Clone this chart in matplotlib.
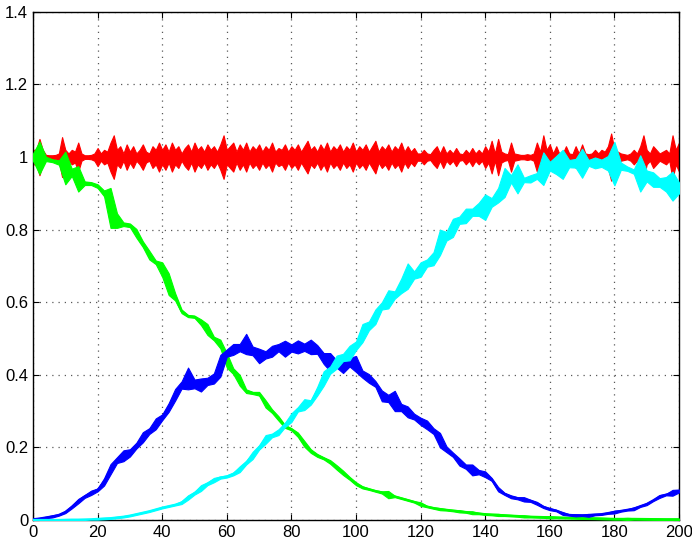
import numpy as np
import matplotlib
matplotlib.use("Agg")
import matplotlib.pyplot as plt

# x grid for the three trend curves (every 2 units) and for red (every unit)
x2 = list(range(0, 201, 2))
x1 = list(range(0, 201, 1))

green_mid = [1.0, 0.998, 0.995, 0.99, 0.985, 0.97, 0.958, 0.94, 0.928, 0.927,
             0.92, 0.9, 0.86, 0.825, 0.815, 0.812, 0.79, 0.76, 0.73, 0.71,
             0.69, 0.65, 0.615, 0.575, 0.562, 0.56, 0.545, 0.525, 0.5, 0.485,
             0.44, 0.41, 0.385, 0.355, 0.35, 0.348, 0.32, 0.3, 0.28, 0.258,
             0.25, 0.235, 0.21, 0.19, 0.178, 0.17, 0.16, 0.145, 0.13, 0.115,
             0.1, 0.09, 0.085, 0.08, 0.076, 0.07, 0.065, 0.06, 0.055, 0.05,
             0.044, 0.037, 0.033, 0.03, 0.028, 0.026, 0.024, 0.022, 0.02, 0.018,
             0.016, 0.015, 0.014, 0.013, 0.012, 0.011, 0.01, 0.009, 0.0085, 0.008,
             0.0075, 0.007, 0.0065, 0.006, 0.0055, 0.005, 0.0048, 0.0045, 0.004, 0.0035,
             0.003, 0.003, 0.003, 0.003, 0.0028, 0.0026, 0.0024, 0.0022, 0.002, 0.002,
             0.002]
green_spread = [0.01, 0.045, 0.006, 0.004, 0.006, 0.045, 0.01, 0.035, 0.005, 0.004,
                0.005, 0.008, 0.055, 0.02, 0.005, 0.005, 0.012, 0.008, 0.012, 0.005,
                0.02, 0.03, 0.01, 0.005, 0.003, 0.003, 0.008, 0.015, 0.005, 0.012,
                0.02, 0.008, 0.015, 0.005, 0.003, 0.005, 0.01, 0.005, 0.006, 0.004,
                0.003, 0.006, 0.008, 0.005, 0.004, 0.003, 0.005, 0.006, 0.006, 0.004,
                0.004, 0.003, 0.002, 0.002, 0.003, 0.01, 0.002, 0.002, 0.002, 0.002,
                0.005, 0.002, 0.002, 0.003, 0.002, 0.002, 0.003, 0.002, 0.004, 0.002,
                0.002, 0.002, 0.003, 0.002, 0.002, 0.002, 0.003, 0.002, 0.002, 0.002,
                0.003, 0.002, 0.002, 0.002, 0.002, 0.002, 0.002, 0.002, 0.002, 0.002,
                0.002, 0.002, 0.003, 0.002, 0.002, 0.002, 0.002, 0.002, 0.002, 0.002,
                0.002]

blue_mid = [0.002, 0.004, 0.007, 0.01, 0.014, 0.022, 0.036, 0.052, 0.065, 0.075,
            0.083, 0.105, 0.14, 0.165, 0.177, 0.185, 0.205, 0.228, 0.245, 0.265,
            0.283, 0.31, 0.345, 0.372, 0.39, 0.375, 0.372, 0.382, 0.39, 0.425,
            0.46, 0.47, 0.475, 0.485, 0.466, 0.452, 0.455, 0.465, 0.475, 0.472,
            0.474, 0.477, 0.476, 0.477, 0.47, 0.445, 0.435, 0.43, 0.425, 0.435,
            0.43, 0.402, 0.39, 0.375, 0.342, 0.335, 0.328, 0.31, 0.298, 0.285,
            0.272, 0.262, 0.245, 0.22, 0.195, 0.18, 0.16, 0.147, 0.138, 0.132,
            0.126, 0.112, 0.085, 0.072, 0.064, 0.06, 0.057, 0.053, 0.046, 0.036,
            0.03, 0.026, 0.018, 0.014, 0.013, 0.013, 0.013, 0.015, 0.016, 0.019,
            0.022, 0.025, 0.028, 0.031, 0.038, 0.044, 0.054, 0.065, 0.07, 0.075,
            0.08]
blue_spread = [0.002, 0.002, 0.002, 0.003, 0.002, 0.003, 0.004, 0.006, 0.004, 0.006,
               0.004, 0.01, 0.014, 0.008, 0.015, 0.01, 0.008, 0.014, 0.008, 0.015,
               0.008, 0.012, 0.016, 0.01, 0.03, 0.012, 0.018, 0.01, 0.014, 0.03,
               0.01, 0.015, 0.01, 0.028, 0.012, 0.02, 0.01, 0.015, 0.01, 0.022,
               0.01, 0.018, 0.01, 0.02, 0.012, 0.015, 0.025, 0.01, 0.02, 0.012,
               0.022, 0.01, 0.012, 0.008, 0.015, 0.01, 0.028, 0.01, 0.015, 0.008,
               0.01, 0.012, 0.008, 0.02, 0.008, 0.006, 0.01, 0.006, 0.015, 0.006,
               0.008, 0.004, 0.006, 0.003, 0.004, 0.003, 0.006, 0.003, 0.004, 0.003,
               0.003, 0.002, 0.004, 0.002, 0.003, 0.002, 0.004, 0.002, 0.002, 0.002,
               0.004, 0.002, 0.002, 0.004, 0.002, 0.003, 0.002, 0.004, 0.002, 0.008,
               0.004]

cyan_mid = [0.0, 0.0, 0.0, 0.0, 0.0, 0.0005, 0.001, 0.001, 0.0015, 0.002,
            0.003, 0.004, 0.005, 0.007, 0.009, 0.012, 0.016, 0.02, 0.024, 0.029,
            0.034, 0.038, 0.042, 0.048, 0.062, 0.074, 0.088, 0.1, 0.11, 0.117,
            0.12, 0.127, 0.14, 0.158, 0.178, 0.2, 0.222, 0.233, 0.242, 0.262,
            0.282, 0.305, 0.318, 0.324, 0.355, 0.39, 0.413, 0.435, 0.448, 0.46,
            0.48, 0.515, 0.535, 0.56, 0.59, 0.608, 0.62, 0.645, 0.672, 0.675,
            0.69, 0.708, 0.72, 0.765, 0.782, 0.805, 0.826, 0.838, 0.848, 0.856,
            0.862, 0.875, 0.895, 0.93, 0.94, 0.94, 0.937, 0.94, 0.948, 0.968,
            0.975, 0.978, 0.98, 0.982, 0.983, 0.983, 0.984, 0.984, 0.983, 0.983,
            0.982, 0.975, 0.968, 0.96, 0.955, 0.948, 0.938, 0.93, 0.925, 0.92,
            0.915]
cyan_spread = [0.001, 0.001, 0.001, 0.001, 0.001, 0.001, 0.001, 0.001, 0.001, 0.001,
               0.002, 0.002, 0.002, 0.002, 0.002, 0.002, 0.002, 0.002, 0.002, 0.002,
               0.002, 0.002, 0.002, 0.004, 0.006, 0.004, 0.008, 0.004, 0.006, 0.003,
               0.003, 0.004, 0.008, 0.005, 0.01, 0.006, 0.012, 0.005, 0.008, 0.006,
               0.012, 0.006, 0.015, 0.006, 0.012, 0.02, 0.01, 0.018, 0.01, 0.02,
               0.012, 0.025, 0.012, 0.02, 0.01, 0.025, 0.01, 0.02, 0.035, 0.01,
               0.02, 0.01, 0.018, 0.035, 0.012, 0.025, 0.01, 0.02, 0.01, 0.018,
               0.035, 0.012, 0.02, 0.04, 0.01, 0.04, 0.006, 0.01, 0.008, 0.045,
               0.012, 0.025, 0.04, 0.01, 0.012, 0.04, 0.008, 0.015, 0.01, 0.02,
               0.06, 0.01, 0.006, 0.006, 0.05, 0.015, 0.02, 0.012, 0.02, 0.04,
               0.015]

red_level = 1.0
red_spread = [0.02, 0.02, 0.05, 0.02, 0.006, 0.005, 0.005, 0.006, 0.01, 0.055,
              0.02, 0.01, 0.02, 0.015, 0.04, 0.01, 0.005, 0.005, 0.006, 0.01,
              0.025, 0.01, 0.02, 0.015, 0.04, 0.06, 0.02, 0.03, 0.01, 0.035,
              0.015, 0.03, 0.01, 0.02, 0.035, 0.015, 0.01, 0.03, 0.02, 0.04,
              0.02, 0.035, 0.015, 0.04, 0.02, 0.03, 0.01, 0.025, 0.035, 0.015,
              0.04, 0.02, 0.03, 0.015, 0.035, 0.02, 0.03, 0.015, 0.035, 0.06,
              0.02, 0.03, 0.04, 0.015, 0.035, 0.02, 0.04, 0.015, 0.03, 0.02,
              0.035, 0.015, 0.03, 0.02, 0.04, 0.015, 0.025, 0.02, 0.035, 0.015,
              0.03, 0.02, 0.035, 0.015, 0.03, 0.045, 0.02, 0.03, 0.015, 0.035,
              0.02, 0.04, 0.015, 0.03, 0.02, 0.035, 0.015, 0.03, 0.02, 0.04,
              0.015, 0.03, 0.02, 0.035, 0.015, 0.03, 0.045, 0.015, 0.03, 0.02,
              0.035, 0.015, 0.03, 0.02, 0.04, 0.015, 0.03, 0.015, 0.025, 0.01,
              0.01, 0.02, 0.01, 0.008, 0.02, 0.03, 0.01, 0.03, 0.01, 0.02,
              0.01, 0.025, 0.01, 0.008, 0.02, 0.01, 0.025, 0.01, 0.02, 0.01,
              0.03, 0.015, 0.045, 0.01, 0.05, 0.015, 0.01, 0.008, 0.04, 0.01,
              0.008, 0.006, 0.006, 0.008, 0.006, 0.01, 0.04, 0.015, 0.06, 0.02,
              0.035, 0.01, 0.03, 0.008, 0.01, 0.03, 0.01, 0.008, 0.03, 0.01,
              0.035, 0.01, 0.008, 0.01, 0.02, 0.01, 0.02, 0.015, 0.03, 0.065,
              0.02, 0.015, 0.01, 0.008, 0.006, 0.01, 0.02, 0.01, 0.03, 0.06,
              0.02, 0.01, 0.03, 0.02, 0.01, 0.015, 0.02, 0.01, 0.06, 0.02,
              0.04]

xticks = list(range(0, 201, 20))
yticks = [0, 0.2, 0.4, 0.6, 0.8, 1.0, 1.2, 1.4]
ytick_labels = ["0", "0.2", "0.4", "0.6", "0.8", "1", "1.2", "1.4"]

plt.rcParams['font.family'] = ['Liberation Sans', 'DejaVu Sans']

fig = plt.figure(figsize=(6.92, 5.44), dpi=100)
ax = fig.add_axes([0.0477, 0.0441, 0.9335, 0.934])


def noisy(x, mid, spread, color, z):
    mid = np.asarray(mid, dtype=float)
    spread = np.asarray(spread, dtype=float)
    ax.fill_between(x, mid - spread, mid + spread, facecolor=color,
                    edgecolor=color, linewidth=0.8, zorder=z)
    ax.plot(x, mid, color=color, linewidth=1.6, zorder=z)


red_mid = [red_level] * len(x1)
noisy(x1, red_mid, red_spread, (1, 0, 0), 2)
noisy(x2, green_mid, green_spread, (0, 1, 0), 3)
noisy(x2, blue_mid, blue_spread, (0, 0, 1), 4)
noisy(x2, cyan_mid, cyan_spread, (0, 1, 1), 5)

ax.set_xlim(0, 200)
ax.set_ylim(0, 1.4)
ax.set_xticks(xticks)
ax.set_yticks(yticks)
ax.set_yticklabels(ytick_labels)
ax.tick_params(direction='in', length=4, labelsize=12, top=True, right=True)
ax.grid(True, linestyle=(0, (1, 4)), color='0.35', linewidth=0.9)
ax.set_axisbelow(True)
for s in ax.spines.values():
    s.set_linewidth(1.0)

fig.savefig("out.png", dpi=100)
